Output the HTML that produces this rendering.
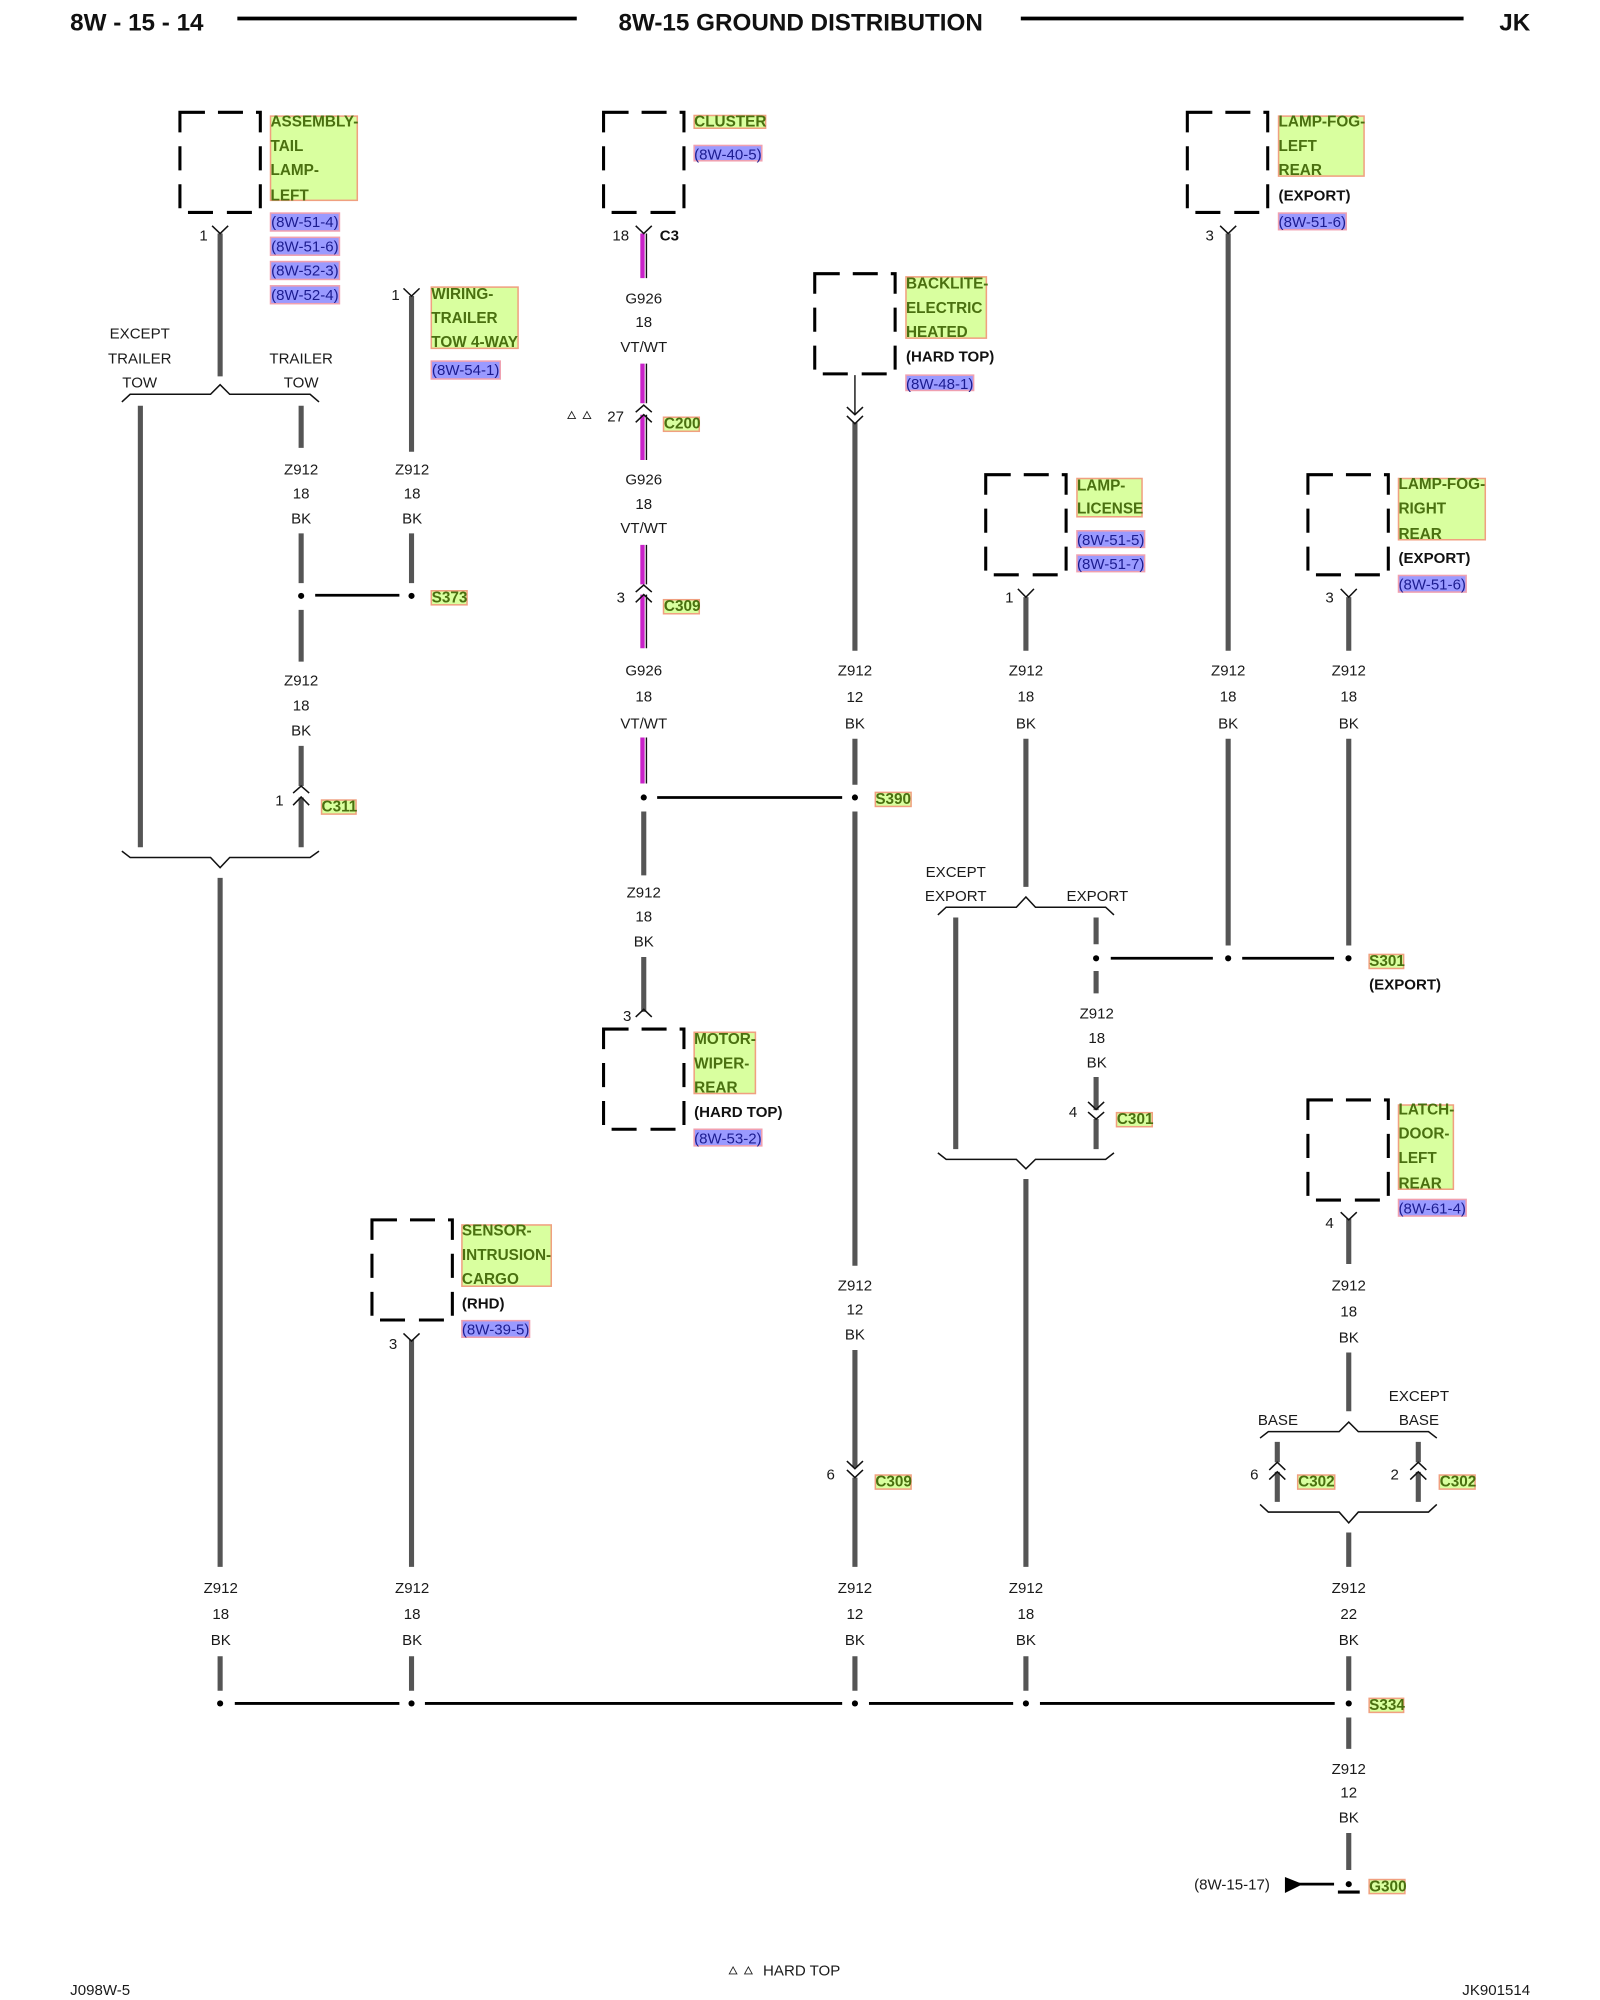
<!DOCTYPE html>
<html><head><meta charset="utf-8"><title>8W-15 Ground Distribution</title>
<style>
html,body{margin:0;padding:0;background:#fff}
svg{display:block}
text{font-family:"Liberation Sans",sans-serif;font-size:11.8px;fill:#1a1a1a;transform:translateY(-0.7px)}
.c{text-anchor:middle}
text.h{font-size:19px;font-weight:bold;fill:#111}
.bd{font-weight:bold;fill:#111}
text.g{font-weight:bold;fill:#4a7010;font-size:12px}
.r{fill:#1c1c90}
.gb{fill:#d9ff9f;stroke:#f0a080;stroke-width:1.2}
.bb{fill:#9a9aff;stroke:#f0a0b0;stroke-width:1.2}
.w{stroke:#555;stroke-width:4;fill:none}
.k{stroke:#000;stroke-width:2.2;fill:none}
.t{stroke:#111;stroke-width:1.1;fill:none}
.m{stroke:#c822c8;stroke-width:3.4;fill:none}
.n{stroke:#111;stroke-width:1.2;fill:none}
.tri{stroke:#222;stroke-width:.7;fill:none}
.box{stroke:#000;stroke-width:2.4;fill:none}
</style></head><body>
<svg xmlns="http://www.w3.org/2000/svg" width="1600" height="2000" viewBox="0 0 1253.9 1567.4">
<defs>
<path id="bx" class="box" d="M19.6 0H0V15.7M29.8 0H49.4M59.6 0H63V15.7M63 26.6V45.5M63 56.4V75.2M0 26.6V45.5M0 56.4V75.2M6.3 78.5H25.9M36.8 78.5H56.4"/>
</defs>
<rect width="1254" height="1568" fill="#fff"/>

<!-- header -->
<text class="h" x="55" y="24.7">8W - 15 - 14</text>
<text class="h c" x="627.5" y="24.7">8W-15 GROUND DISTRIBUTION</text>
<text class="h" x="1175" y="24.7">JK</text>
<path d="M186 14.5H452M800 14.5H1147" stroke="#000" stroke-width="3" fill="none"/>

<!-- boxes -->
<use href="#bx" x="141" y="88"/>
<use href="#bx" x="473" y="88"/>
<use href="#bx" x="930.5" y="88"/>
<use href="#bx" x="638.5" y="214.5"/>
<use href="#bx" x="772.5" y="372"/>
<use href="#bx" x="1025" y="372"/>
<use href="#bx" x="473" y="806.5"/>
<use href="#bx" x="291.5" y="956"/>
<use href="#bx" x="1025" y="862"/>

<!-- wires -->
<path class="w" d="M172.5 183V295M172.5 688V1228M172.5 1298V1325
M110 318V664
M236 318V351M236 418V457M236 478V518.5M236 584.5V616M236 625V664
M322.5 232V354M322.5 418V457M322.5 1050V1228M322.5 1298V1325
M504.5 636V686M504.5 750V793
M670 331V510M670 579V615M670 636V992M670 1058V1150M670 1158V1228M670 1298V1325
M804 468V510M804 579V695M804 924V1228M804 1298V1325
M749 719V900.6
M859 719V740M859 761V778.5M859 844V870M859 877V900.6
M962.5 183V510M962.5 579V741
M1057 468V510M1057 579V741M1057 955V990.6M1057 1060V1106M1057 1201V1228M1057 1298V1325M1057 1346V1370.6M1057 1436.5V1465.5
M1001 1130V1146M1001 1153.5V1177M1111.5 1130V1146M1111.5 1153.5V1177"/>
<path class="m" d="M503.5 183V218M503.5 285V316M503.5 325V360.5M503.5 427V458M503.5 466V508M503.5 578V614"/>
<path class="t" d="M506.6 183V218M506.6 285V316M506.6 325V360.5M506.6 427V458M506.6 466V508M506.6 578V614M670 294V325"/>

<!-- black buses -->
<path class="k" d="M247 466.5H313M515 625H660M870.5 751H950.5M973.5 751H1045.5M184 1335H313M333 1335H660M681 1335H794M815 1335H1046M1013 1476.6H1045.5"/>
<path d="M1048.5 1482.8H1065.6" stroke="#000" stroke-width="2.4"/>
<path d="M1007 1471L1021 1476.6L1007 1483.5Z" fill="#000"/>
<g fill="#000">
<circle cx="236" cy="467" r="2.4"/><circle cx="322.5" cy="467" r="2.4"/>
<circle cx="504.5" cy="625" r="2.4"/><circle cx="670" cy="625" r="2.4"/>
<circle cx="859" cy="751" r="2.4"/><circle cx="962.5" cy="751" r="2.4"/><circle cx="1056.8" cy="751" r="2.4"/>
<circle cx="172.5" cy="1335" r="2.4"/><circle cx="322.5" cy="1335" r="2.4"/><circle cx="670" cy="1335" r="2.4"/><circle cx="804" cy="1335" r="2.4"/><circle cx="1057" cy="1335" r="2.4"/>
<circle cx="1057" cy="1476.6" r="2.4"/>
</g>

<!-- braces -->
<path class="n" d="M95.5 315L102 309H165L172.5 301.5L180 309H243L250 315
M95.5 667L102 672H165L172.5 680L180 672H243L250 667
M735 717L741.5 711H796.5L804 703L811.5 711H866.5L873 717
M735 903.5L741.5 908.6H796.5L804 916L811.5 908.6H866.5L873 903.5
M987.5 1127L994 1122H1049.5L1057 1114.5L1064.5 1122H1119.5L1126 1127
M987.5 1179L994 1185H1049.5L1057 1193.5L1064.5 1185H1119.5L1126 1179"/>

<!-- connector chevrons -->
<path class="n" d="M166.2 177L172.5 183L178.8 177
M316.2 226L322.5 232L328.8 226
M498.2 177L504.5 183L510.8 177
M956.2 177L962.5 183L968.8 177
M797.7 461.5L804 468L810.3 461.5
M1050.7 461.5L1057 468L1063.3 461.5
M1050.7 950L1057 956L1063.3 950
M316.2 1045L322.5 1051L328.8 1045
M498.2 323L504.5 317.5L510.8 323M498.2 331L504.5 325L510.8 331
M498.2 464L504.5 458.5L510.8 464M498.2 472L504.5 466L510.8 472
M229.7 621.5L236 616L242.3 621.5M229.7 631L236 624.6L242.3 631
M663.7 319L670 325L676.3 319M663.7 326L670 332L676.3 326
M852.7 863.6L859 869.5L865.3 863.6M852.7 871.5L859 877L865.3 871.5
M663.7 1145L670 1151L676.3 1145M663.7 1152L670 1158L676.3 1152
M994.7 1152L1001 1146L1007.3 1152M994.7 1159.5L1001 1153.5L1007.3 1159.5
M1105.2 1152L1111.5 1146L1117.8 1152M1105.2 1159.5L1111.5 1153.5L1117.8 1159.5
M498.2 797L504.5 791L510.8 797"/>

<!-- green component labels -->
<rect class="gb" x="212" y="91" width="68" height="66"/>
<text class="g" x="212" y="100">ASSEMBLY-</text><text class="g" x="212" y="119">TAIL</text><text class="g" x="212" y="138">LAMP-</text><text class="g" x="212" y="158">LEFT</text>
<rect class="gb" x="544" y="90.5" width="56" height="10"/>
<text class="g" x="544" y="100">CLUSTER</text>
<rect class="gb" x="338" y="225" width="68" height="48"/>
<text class="g" x="338" y="235">WIRING-</text><text class="g" x="338" y="254">TRAILER</text><text class="g" x="338" y="272.5">TOW 4-WAY</text>
<rect class="gb" x="710" y="217" width="63" height="48"/>
<text class="g" x="710" y="227">BACKLITE-</text><text class="g" x="710" y="246">ELECTRIC</text><text class="g" x="710" y="265">HEATED</text>
<rect class="gb" x="1002" y="91" width="67" height="47"/>
<text class="g" x="1002" y="100">LAMP-FOG-</text><text class="g" x="1002" y="119">LEFT</text><text class="g" x="1002" y="138">REAR</text>
<rect class="gb" x="844" y="375" width="51" height="30"/>
<text class="g" x="844" y="385">LAMP-</text><text class="g" x="844" y="403">LICENSE</text>
<rect class="gb" x="1096" y="375" width="68" height="48"/>
<text class="g" x="1096" y="384">LAMP-FOG-</text><text class="g" x="1096" y="403">RIGHT</text><text class="g" x="1096" y="423">REAR</text>
<rect class="gb" x="544" y="809" width="48" height="48"/>
<text class="g" x="544" y="819">MOTOR-</text><text class="g" x="544" y="838">WIPER-</text><text class="g" x="544" y="857">REAR</text>
<rect class="gb" x="362" y="960" width="70" height="48"/>
<text class="g" x="362" y="969">SENSOR-</text><text class="g" x="362" y="988">INTRUSION-</text><text class="g" x="362" y="1007">CARGO</text>
<rect class="gb" x="1096" y="866" width="43" height="66"/>
<text class="g" x="1096" y="874">LATCH-</text><text class="g" x="1096" y="893">DOOR-</text><text class="g" x="1096" y="912">LEFT</text><text class="g" x="1096" y="932">REAR</text>

<!-- bold notes -->
<text class="bd" x="710" y="284">(HARD TOP)</text>
<text class="bd" x="1002" y="158">(EXPORT)</text>
<text class="bd" x="1096" y="442">(EXPORT)</text>
<text class="bd" x="544" y="876">(HARD TOP)</text>
<text class="bd" x="362" y="1026">(RHD)</text>
<text class="bd" x="1073" y="776">(EXPORT)</text>
<text class="bd" x="517" y="189">C3</text>

<!-- blue refs -->
<rect class="bb" x="212" y="167" width="54" height="14"/><text class="r" x="212.5" y="178.7">(8W-51-4)</text>
<rect class="bb" x="212" y="186" width="54" height="14"/><text class="r" x="212.5" y="197.7">(8W-51-6)</text>
<rect class="bb" x="212" y="205" width="54" height="14"/><text class="r" x="212.5" y="216.7">(8W-52-3)</text>
<rect class="bb" x="212" y="224" width="54" height="14"/><text class="r" x="212.5" y="235.7">(8W-52-4)</text>
<rect class="bb" x="544" y="114" width="53" height="12"/><text class="r" x="544" y="125.7">(8W-40-5)</text>
<rect class="bb" x="338" y="283" width="54" height="14"/><text class="r" x="338.5" y="294.7">(8W-54-1)</text>
<rect class="bb" x="710" y="294" width="53" height="12"/><text class="r" x="710" y="305.7">(8W-48-1)</text>
<rect class="bb" x="1002" y="167" width="53" height="13"/><text class="r" x="1002" y="178.7">(8W-51-6)</text>
<rect class="bb" x="844" y="416" width="53" height="13"/><text class="r" x="844" y="427.7">(8W-51-5)</text>
<rect class="bb" x="844" y="435" width="53" height="13"/><text class="r" x="844" y="446.7">(8W-51-7)</text>
<rect class="bb" x="1096" y="451" width="53" height="13"/><text class="r" x="1096" y="462.7">(8W-51-6)</text>
<rect class="bb" x="544" y="885" width="53" height="13"/><text class="r" x="544" y="896.7">(8W-53-2)</text>
<rect class="bb" x="362" y="1035" width="53" height="13"/><text class="r" x="362" y="1046.7">(8W-39-5)</text>
<rect class="bb" x="1096" y="940" width="53" height="13"/><text class="r" x="1096" y="951.7">(8W-61-4)</text>

<!-- connector / splice tags -->
<rect class="gb" x="520" y="327" width="28" height="11"/><text class="g" x="520.3" y="336.7">C200</text>
<rect class="gb" x="520" y="470" width="28" height="11"/><text class="g" x="520.3" y="479.7">C309</text>
<rect class="gb" x="338" y="463" width="28" height="11"/><text class="g" x="338.3" y="472.7">S373</text>
<rect class="gb" x="252" y="627" width="27" height="11"/><text class="g" x="252" y="636.7">C311</text>
<rect class="gb" x="686" y="621" width="28" height="11"/><text class="g" x="686" y="630.7">S390</text>
<rect class="gb" x="1073" y="748" width="27" height="11"/><text class="g" x="1073" y="757.7">S301</text>
<rect class="gb" x="875" y="872" width="28" height="11"/><text class="g" x="875.3" y="881.7">C301</text>
<rect class="gb" x="1017" y="1156" width="29" height="11"/><text class="g" x="1017.3" y="1165.7">C302</text>
<rect class="gb" x="1128" y="1156" width="28" height="11"/><text class="g" x="1128.3" y="1165.7">C302</text>
<rect class="gb" x="686" y="1156" width="28" height="11"/><text class="g" x="686" y="1165.7">C309</text>
<rect class="gb" x="1073" y="1331" width="27" height="11"/><text class="g" x="1073" y="1340.7">S334</text>
<rect class="gb" x="1073" y="1473" width="28" height="11"/><text class="g" x="1073" y="1483.2">G300</text>

<!-- pin numbers -->
<text class="c" x="159.5" y="189">1</text>
<text class="c" x="310" y="236">1</text>
<text class="c" x="486.5" y="189">18</text>
<text class="c" x="482.5" y="331">27</text>
<text class="c" x="486.5" y="473">3</text>
<text class="c" x="219" y="632">1</text>
<text class="c" x="791" y="473">1</text>
<text class="c" x="491.5" y="801">3</text>
<text class="c" x="948" y="189">3</text>
<text class="c" x="1042" y="473">3</text>
<text class="c" x="308" y="1058">3</text>
<text class="c" x="841" y="876">4</text>
<text class="c" x="1042" y="963">4</text>
<text class="c" x="651" y="1160">6</text>
<text class="c" x="983" y="1160">6</text>
<text class="c" x="1093" y="1160">2</text>

<!-- hard-top triangles -->
<path class="tri" d="M445 328L448 322.5L451 328ZM457 328L460 322.5L463 328ZM571.5 1547L574.5 1541.5L577.5 1547ZM583.5 1547L586.5 1541.5L589.5 1547Z"/>

<!-- option labels -->
<text class="c" x="109.5" y="266">EXCEPT</text><text class="c" x="109.5" y="285.5">TRAILER</text><text class="c" x="109.5" y="304.5">TOW</text>
<text class="c" x="236" y="285.5">TRAILER</text><text class="c" x="236" y="304.5">TOW</text>
<text class="c" x="749" y="688">EXCEPT</text><text class="c" x="749" y="707">EXPORT</text><text class="c" x="860" y="707">EXPORT</text>
<text class="c" x="1001.5" y="1117.5">BASE</text>
<text class="c" x="1112" y="1098.5">EXCEPT</text><text class="c" x="1112" y="1117.5">BASE</text>

<!-- wire labels -->
<text class="c" x="236" y="372.5">Z912</text><text class="c" x="236" y="391.5">18</text><text class="c" x="236" y="411">BK</text>
<text class="c" x="323" y="372.5">Z912</text><text class="c" x="323" y="391.5">18</text><text class="c" x="323" y="411">BK</text>
<text class="c" x="236" y="538">Z912</text><text class="c" x="236" y="557.5">18</text><text class="c" x="236" y="577">BK</text>
<text class="c" x="504.5" y="238.5">G926</text><text class="c" x="504.5" y="257">18</text><text class="c" x="504.5" y="276.5">VT/WT</text>
<text class="c" x="504.5" y="380.5">G926</text><text class="c" x="504.5" y="399.5">18</text><text class="c" x="504.5" y="418.5">VT/WT</text>
<text class="c" x="504.5" y="530">G926</text><text class="c" x="504.5" y="550.5">18</text><text class="c" x="504.5" y="571.5">VT/WT</text>
<text class="c" x="504.5" y="704">Z912</text><text class="c" x="504.5" y="723">18</text><text class="c" x="504.5" y="742.5">BK</text>
<text class="c" x="670" y="530">Z912</text><text class="c" x="670" y="551">12</text><text class="c" x="670" y="571.5">BK</text>
<text class="c" x="804" y="530">Z912</text><text class="c" x="804" y="550.5">18</text><text class="c" x="804" y="571.5">BK</text>
<text class="c" x="962.5" y="530">Z912</text><text class="c" x="962.5" y="550.5">18</text><text class="c" x="962.5" y="571.5">BK</text>
<text class="c" x="1057" y="530">Z912</text><text class="c" x="1057" y="550.5">18</text><text class="c" x="1057" y="571.5">BK</text>
<text class="c" x="859.5" y="799">Z912</text><text class="c" x="859.5" y="818">18</text><text class="c" x="859.5" y="837.5">BK</text>
<text class="c" x="670" y="1012">Z912</text><text class="c" x="670" y="1031">12</text><text class="c" x="670" y="1050.5">BK</text>
<text class="c" x="1057" y="1012">Z912</text><text class="c" x="1057" y="1032.5">18</text><text class="c" x="1057" y="1053">BK</text>
<text class="c" x="173" y="1249">Z912</text><text class="c" x="173" y="1269.5">18</text><text class="c" x="173" y="1290">BK</text>
<text class="c" x="323" y="1249">Z912</text><text class="c" x="323" y="1269.5">18</text><text class="c" x="323" y="1290">BK</text>
<text class="c" x="670" y="1249">Z912</text><text class="c" x="670" y="1269.5">12</text><text class="c" x="670" y="1290">BK</text>
<text class="c" x="804" y="1249">Z912</text><text class="c" x="804" y="1269.5">18</text><text class="c" x="804" y="1290">BK</text>
<text class="c" x="1057" y="1249">Z912</text><text class="c" x="1057" y="1269.5">22</text><text class="c" x="1057" y="1290">BK</text>
<text class="c" x="1057" y="1391">Z912</text><text class="c" x="1057" y="1409.5">12</text><text class="c" x="1057" y="1429">BK</text>
<text class="c" x="965.5" y="1481.5">(8W-15-17)</text>

<!-- footer -->
<text x="598" y="1549">HARD TOP</text>
<text x="55" y="1564">J098W-5</text>
<text x="1146" y="1564">JK901514</text>
</svg>
</body></html>
